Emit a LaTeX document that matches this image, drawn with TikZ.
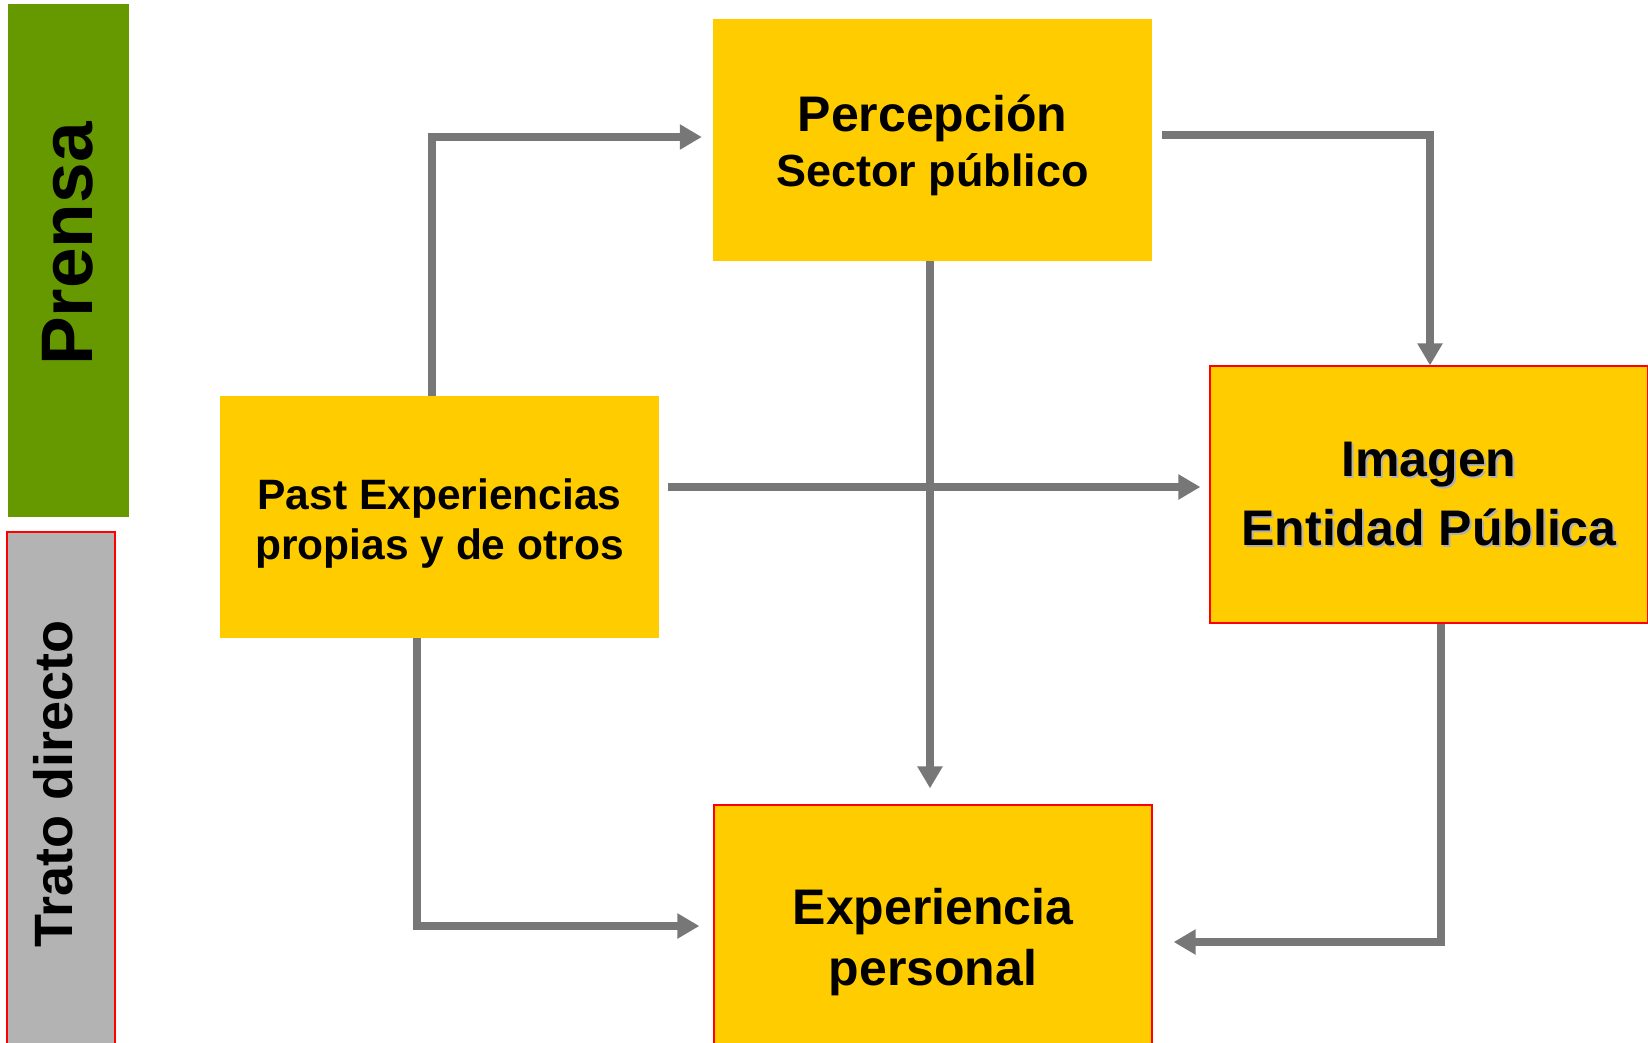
\documentclass[tikz,border=0pt]{standalone}
\usepackage{fontspec}
\setmainfont{Liberation Sans}
\usetikzlibrary{arrows.meta}

\definecolor{prensagreen}{HTML}{669900}
\definecolor{tratogray}{HTML}{B3B3B3}
\definecolor{boxyellow}{HTML}{FFCC00}
\definecolor{flowgray}{HTML}{777777}
\definecolor{shadowgray}{HTML}{B0B0B0}

\begin{document}
\begin{tikzpicture}[x=1pt, y=-1pt,
  box/.style={fill=boxyellow, inner sep=0pt, align=center,
    minimum width=439pt, minimum height=242pt, font=\bfseries},
  redbox/.style={box, draw=red, line width=1.3pt},
  flow/.style={draw=flowgray, line width=7.5pt,
    -{Triangle[length=22pt, width=24pt]}}]
  \useasboundingbox (0,0) rectangle (1648,1042);

  % Side bars
  \fill[prensagreen] (8,4) rectangle (129,517);
  \node[rotate=90, anchor=base, font=\bfseries\fontsize{73}{80}\selectfont]
    (prensa) at (92,244) {Prensa};
  \filldraw[fill=tratogray, draw=red, line width=1.3pt] (7,532) rectangle (115,1070);
  \node[rotate=90, anchor=base, font=\bfseries\fontsize{54}{60}\selectfont]
    (trato) at (72,784) {Trato directo};

  % Boxes
  \node[box, font=\bfseries\fontsize{45}{55}\selectfont, text height=102pt]
    (perc) at (932.5,140)
    {{\fontsize{50}{55}\selectfont Percepción}\\Sector público};
  \node[box, font=\bfseries\fontsize{42.5}{50}\selectfont, text height=93pt]
    (past) at (439.5,517) {Past Experiencias\\propias y de otros};
  \node[redbox, minimum width=438pt, minimum height=257pt] (imagen) at (1429,494.5) {};
  \node[font=\bfseries\fontsize{50}{69}\selectfont, align=center, text=shadowgray]
    at ([shift={(2,2)}]imagen.center) {Imagen\\Entidad Pública};
  \node[font=\bfseries\fontsize{50}{69}\selectfont, align=center]
    at (imagen.center) {Imagen\\Entidad Pública};
  \node[redbox, minimum width=438pt, minimum height=274pt,
    font=\bfseries\fontsize{50}{61}\selectfont] (exper) at (933,942)
    {Experiencia\\personal};

  % Connectors
  \draw[flow, shorten >=11pt] (past.north -| 432,0) |- (perc.west |- 0,137);
  \draw[flow, shorten <=10pt] (perc.east |- 0,135) -| (imagen.north -| 1430,0);
  \draw[flow, shorten >=16pt] (perc.south -| 930,0) -- (exper.north -| 930,0);
  \draw[flow, shorten <=9pt, shorten >=9pt] (past.east |- 0,487) -- (imagen.west |- 0,487);
  \draw[flow, shorten >=14pt] (past.south -| 417,0) |- (exper.west |- 0,926);
  \draw[flow, shorten >=21pt] (imagen.south -| 1441,0) |- (exper.east |- 0,942);
\end{tikzpicture}
\end{document}
